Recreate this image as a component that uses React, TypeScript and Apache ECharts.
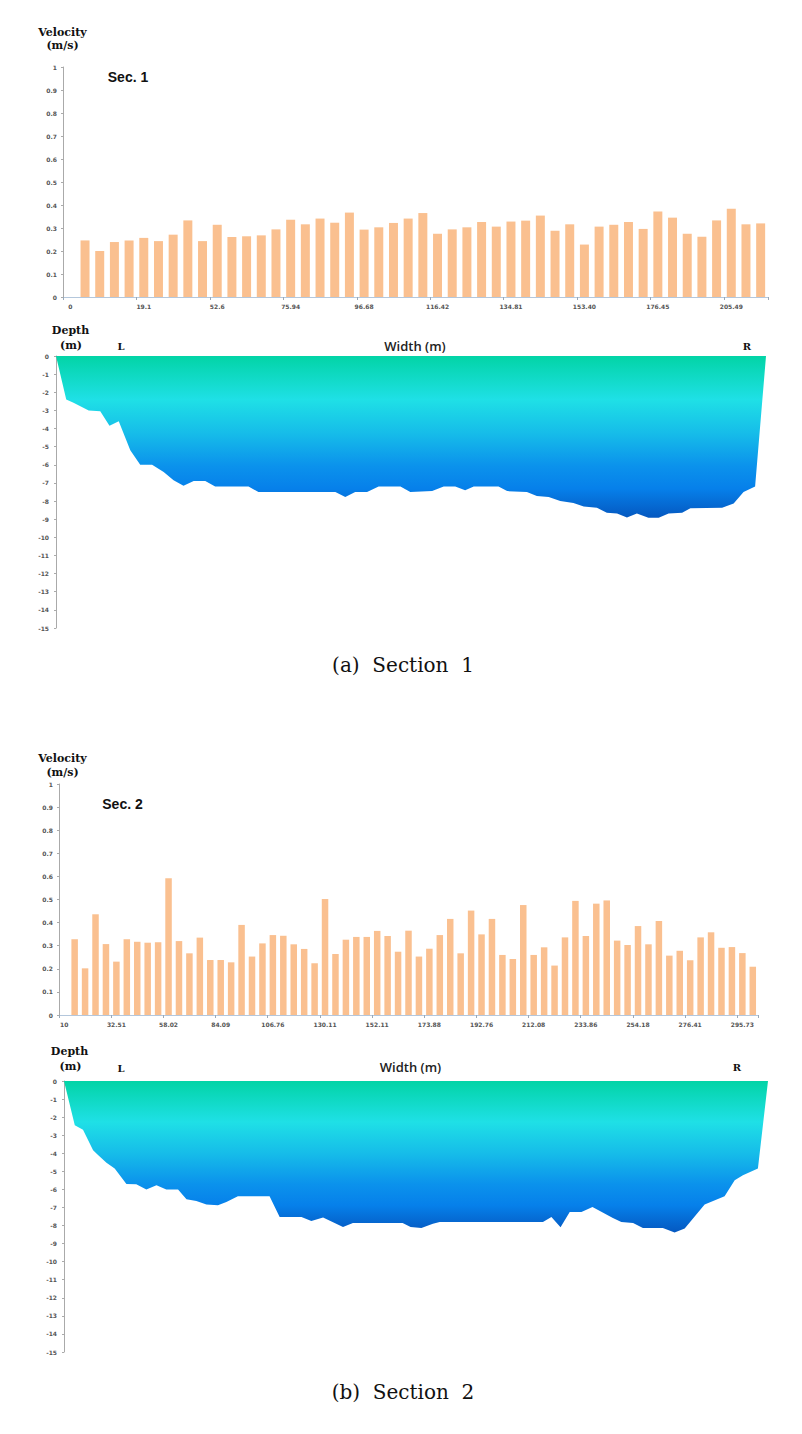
import React, { useEffect, useRef } from "react";
import * as echarts from "echarts";

// ---------- Section 1 ----------
const sec1Ticks = ["0", "19.1", "52.6", "75.94", "96.68", "116.42", "134.81", "153.40", "176.45", "205.49"];
const sec1Velocity = [
  0.246, 0.2, 0.239, 0.246, 0.257, 0.243, 0.271, 0.333, 0.243, 0.314,
  0.261, 0.264, 0.268, 0.294, 0.336, 0.316, 0.341, 0.323, 0.367, 0.293,
  0.303, 0.322, 0.341, 0.365, 0.275, 0.294, 0.303, 0.326, 0.306, 0.328,
  0.332, 0.354, 0.288, 0.316, 0.228, 0.306, 0.314, 0.326, 0.296, 0.372,
  0.345, 0.275, 0.262, 0.333, 0.384, 0.316, 0.32,
];
const sec1Width = 215;
const sec1Dist = [
  0, 3.1, 5.3, 9.9, 13.4, 16.2, 19.0, 22.5, 25.5, 29.1, 32.6, 35.6, 38.6, 41.7, 45.2, 48.2,
  58.3, 61.3, 84.6, 87.6, 90.6, 94.2, 97.7, 104.3, 107.3, 113.9, 117.4, 120.9, 123.9, 126.5,
  134.0, 136.6, 142.6, 145.6, 149.2, 152.7, 156.7, 159.8, 163.8, 166.8, 169.9, 172.9, 175.9,
  179.4, 182.5, 185.5, 189.6, 192.1, 201.7, 205.2, 208.2, 211.7, 215,
];
const sec1Depth = [
  0, -2.4, -2.58, -3.0, -3.05, -3.85, -3.6, -5.2, -6.0, -6.0, -6.4, -6.85, -7.15, -6.9, -6.9, -7.2,
  -7.2, -7.5, -7.5, -7.77, -7.5, -7.5, -7.2, -7.2, -7.5, -7.45, -7.2, -7.2, -7.4, -7.2,
  -7.2, -7.45, -7.5, -7.72, -7.77, -8.0, -8.1, -8.3, -8.37, -8.64, -8.68, -8.9, -8.68,
  -8.92, -8.92, -8.68, -8.64, -8.4, -8.37, -8.13, -7.5, -7.2, 0,
];

// ---------- Section 2 ----------
const sec2Ticks = ["10", "32.51", "58.02", "84.09", "106.76", "130.11", "152.11", "173.88", "192.76", "212.08", "233.86", "254.18", "276.41", "295.73"];
const sec2Velocity = [
  0.328, 0.202, 0.436, 0.307, 0.231, 0.328, 0.317, 0.313, 0.315, 0.592,
  0.32, 0.267, 0.335, 0.238, 0.238, 0.228, 0.39, 0.253, 0.31, 0.346,
  0.343, 0.306, 0.286, 0.224, 0.502, 0.264, 0.326, 0.338, 0.338, 0.364,
  0.342, 0.274, 0.365, 0.253, 0.287, 0.346, 0.416, 0.267, 0.452, 0.349,
  0.416, 0.26, 0.242, 0.476, 0.26, 0.293, 0.214, 0.336, 0.494, 0.342,
  0.482, 0.496, 0.322, 0.303, 0.385, 0.306, 0.407, 0.257, 0.278, 0.237,
  0.336, 0.358, 0.291, 0.294, 0.268, 0.209,
];
const sec2Width = 300;
const sec2Dist = [
  0, 4.6, 8.1, 12.4, 14.5, 18.1, 21.6, 23.7, 26.6, 30.8, 35.1, 39.4, 43.6, 48.6, 52.2, 56.4,
  60.7, 65.6, 69.2, 74.1, 87.6, 91.9, 101.2, 105.4, 110.4, 118.9, 123.1, 144.3, 147.7, 152.3,
  157.2, 160.1, 204.1, 207.7, 211.6, 215.5, 220.5, 225.2, 233.9, 237.5, 242.5, 246.7, 255.2,
  260.2, 264.5, 273.0, 281.5, 285.8, 289.3, 295.7, 300,
];
const sec2Depth = [
  0, -2.45, -2.7, -3.83, -4.1, -4.53, -4.85, -5.2, -5.7, -5.72, -6.0, -5.77, -6.0, -6.0, -6.55, -6.64,
  -6.84, -6.88, -6.7, -6.38, -6.38, -7.53, -7.53, -7.75, -7.56, -8.08, -7.86, -7.86, -8.08, -8.13,
  -7.9, -7.8, -7.8, -7.53, -8.1, -7.25, -7.25, -6.97, -7.58, -7.8, -7.86, -8.13, -8.13,
  -8.39, -8.17, -6.84, -6.38, -5.5, -5.22, -4.85, 0,
];

const BAR_COLOR = "#FAC090";
const tickFont = { fontSize: 6, color: "#555", fontFamily: "DejaVu Sans", fontWeight: "bold" as const };

function buildCategories(ticks: string[], n: number) {
  return Array.from({ length: n + 1 }, (_, i) => (i % 5 === 0 ? ticks[i / 5] ?? "" : ""));
}

function waterGradient() {
  return new echarts.graphic.LinearGradient(0, 0, 0, 1, [
    { offset: 0, color: "#02D4A6" },
    { offset: 0.27, color: "#1FE0E6" },
    { offset: 0.48, color: "#16BCE9" },
    { offset: 0.68, color: "#0B92EC" },
    { offset: 0.82, color: "#0680EA" },
    { offset: 1, color: "#0558C0" },
  ]);
}

export default function App() {
  const ref = useRef<HTMLDivElement>(null);

  useEffect(() => {
    if (!ref.current) return;
    const chart = echarts.init(ref.current, undefined, { renderer: "svg" });

    const cats1 = buildCategories(sec1Ticks, sec1Velocity.length);
    const cats2 = buildCategories(sec2Ticks, sec2Velocity.length);

    const barX = (gridIndex: number, data: string[]) => ({
      type: "category" as const,
      gridIndex,
      data,
      boundaryGap: true,
      axisLine: { show: true, lineStyle: { color: "#B4C7DC", width: 1 } },
      axisTick: { show: true, interval: 4, length: 3, lineStyle: { color: "#9AA9B8" } },
      axisLabel: { ...tickFont, interval: 4, margin: 6 },
      splitLine: { show: false },
    });
    const barY = (gridIndex: number) => ({
      type: "value" as const,
      gridIndex,
      min: 0,
      max: 1,
      interval: 0.1,
      axisLine: { show: true, lineStyle: { color: "#AAAAAA" } },
      axisTick: { show: true, length: 2, lineStyle: { color: "#AAAAAA" } },
      axisLabel: { ...tickFont, margin: 6 },
      splitLine: { show: false },
    });
    const depthX = (gridIndex: number, max: number) => ({
      type: "value" as const,
      gridIndex,
      min: 0,
      max,
      show: false,
    });
    const depthY = (gridIndex: number) => ({
      type: "value" as const,
      gridIndex,
      min: -15,
      max: 0,
      interval: 1,
      axisLine: { show: true, onZero: false, lineStyle: { color: "#AAAAAA" } },
      axisTick: { show: true, length: 2, lineStyle: { color: "#AAAAAA" } },
      axisLabel: { ...tickFont, margin: 7 },
      splitLine: { show: false },
    });

    const text = (x: number, y: number, t: string, style: any) => ({
      type: "text",
      x,
      y,
      style: { text: t, textAlign: "center", textVerticalAlign: "middle", fill: "#111", ...style },
    });
    const serifBold = { fontFamily: "DejaVu Serif", fontWeight: "bold", fontSize: 11 };
    const smallSerifBold = { fontFamily: "DejaVu Serif", fontWeight: "bold", fontSize: 10 };
    const secFont = { fontFamily: "Liberation Sans", fontWeight: "bold", fontSize: 14 };
    const widthFont = { fontFamily: "Open Sans", fontWeight: 600, fontSize: 13, fill: "#222" };
    const capFont = { fontFamily: "DejaVu Serif", fontSize: 20, fill: "#111" };

    chart.setOption({
      animation: false,
      backgroundColor: "#ffffff",
      grid: [
        { left: 63, top: 67, width: 705, height: 230 },
        { left: 56, top: 356, width: 710, height: 272 },
        { left: 59, top: 784, width: 699, height: 231 },
        { left: 64, top: 1081, width: 704, height: 271 },
      ],
      xAxis: [barX(0, cats1), depthX(1, sec1Width), barX(2, cats2), depthX(3, sec2Width)],
      yAxis: [barY(0), depthY(1), barY(2), depthY(3)],
      series: [
        {
          type: "bar",
          xAxisIndex: 0,
          yAxisIndex: 0,
          data: [null, ...sec1Velocity],
          barWidth: 9,
          itemStyle: { color: BAR_COLOR },
        },
        {
          type: "line",
          xAxisIndex: 1,
          yAxisIndex: 1,
          data: sec1Dist.map((d, i) => [d, sec1Depth[i]]),
          symbol: "none",
          lineStyle: { width: 0 },
          areaStyle: { origin: "end", color: waterGradient(), opacity: 1 },
        },
        {
          type: "bar",
          xAxisIndex: 2,
          yAxisIndex: 2,
          data: [null, ...sec2Velocity],
          barWidth: 6.5,
          itemStyle: { color: BAR_COLOR },
        },
        {
          type: "line",
          xAxisIndex: 3,
          yAxisIndex: 3,
          data: sec2Dist.map((d, i) => [d, sec2Depth[i]]),
          symbol: "none",
          lineStyle: { width: 0 },
          areaStyle: { origin: "end", color: waterGradient(), opacity: 1 },
        },
      ],
      graphic: [
        // Section 1 velocity chart
        text(62.5, 32, "Velocity", serifBold),
        text(62.5, 45, "(m/s)", serifBold),
        text(128, 77, "Sec. 1", secFont),
        // Section 1 depth chart
        text(70.5, 330, "Depth", serifBold),
        text(71, 345, "(m)", serifBold),
        text(121, 346, "L", smallSerifBold),
        text(415, 346, "Width (m)", widthFont),
        text(747, 346, "R", smallSerifBold),
        text(403, 665, "(a)  Section  1", capFont),
        // Section 2 velocity chart
        text(62.5, 758, "Velocity", serifBold),
        text(62.5, 772, "(m/s)", serifBold),
        text(122.5, 804, "Sec. 2", secFont),
        // Section 2 depth chart
        text(69.5, 1051, "Depth", serifBold),
        text(70.5, 1066, "(m)", serifBold),
        text(121, 1068, "L", smallSerifBold),
        text(410.5, 1067, "Width (m)", widthFont),
        text(737, 1067, "R", smallSerifBold),
        text(403, 1392, "(b)  Section  2", capFont),
      ],
    });

    return () => chart.dispose();
  }, []);

  return (
    <div
      ref={ref}
      style={{ position: "absolute", left: 0, top: 0, width: 802, height: 1434, background: "#fff" }}
    />
  );
}
